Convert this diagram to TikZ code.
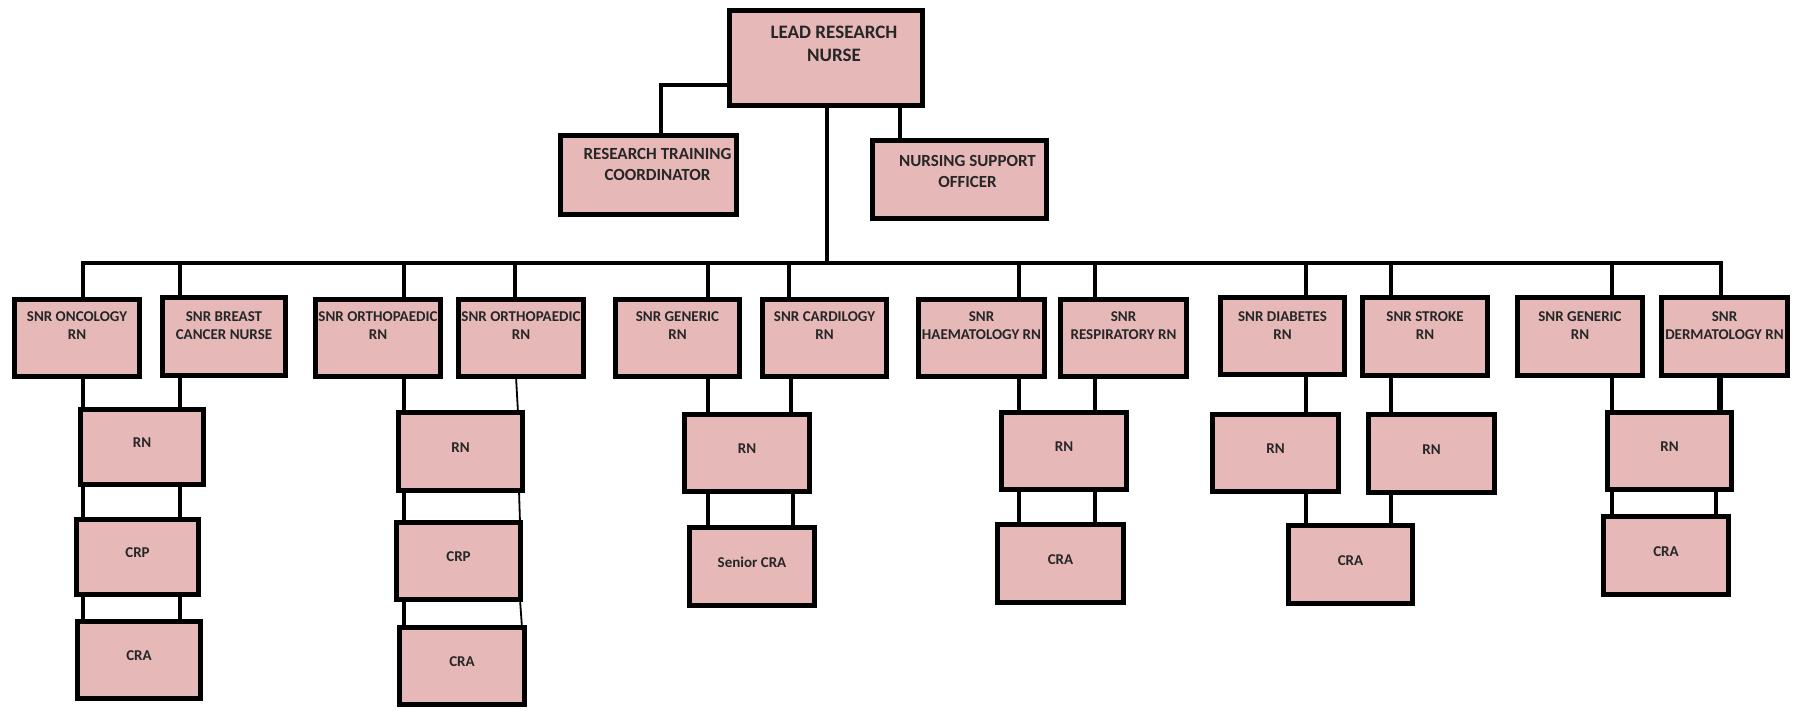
\documentclass[tikz,border=0pt]{standalone}
\usepackage{fontspec}
\setmainfont{Carlito}
\usetikzlibrary{backgrounds,calc}
\definecolor{boxfill}{HTML}{E6B9B8}
\definecolor{txtcol}{HTML}{262626}
\tikzset{
  box/.style={rectangle, draw=black, fill=boxfill, line width=5pt, inner sep=0pt, outer sep=0pt},
  txt/.style={inner sep=0pt, align=center, text=txtcol, font=\bfseries\fontsize{15}{18}\selectfont},
  bigtxt/.style={txt, font=\bfseries\fontsize{17}{21}\selectfont},
  leadtxt/.style={txt, font=\bfseries\fontsize{19}{23}\selectfont},
  conn/.style={draw=black, line width=4pt, line cap=rect},
  thinconn/.style={draw=black, line width=1.8pt},
}
\newcommand\Bx[5]{\node[box, minimum width={#4-#2-5}, minimum height={#5-#3-5}] (#1) at ({(#2+#4)/2},{(#3+#5)/2}) {};}
\newcommand\vc[4][conn]{\draw[#1] let \p1=(#2.south), \p2=(#3.north), \p3=(#4,0) in (\x3,\y1) -- (\x3,\y2);}
\newcommand\vcs[5][thinconn]{\draw[#1] let \p1=(#2.south), \p2=(#3.north), \p3=(#4,0), \p4=(#5,0) in (\x3,\y1) -- (\x4,\y2);}
\newcommand\drop[2]{\draw[conn] let \p1=(busL), \p2=(#1.north), \p3=(#2,0) in (\x3,\y1) -- (\x3,\y2);}
\newcommand\RowT[2]{\node[txt, anchor=north] (#1t) at (#1.center |- rowT) {#2};}
\newcommand\OneT[2]{\node[txt] (#1t) at ([yshift=4pt]#1.center) {#2};}
\begin{document}
\begin{tikzpicture}[x=1pt,y=-1pt]
\useasboundingbox (0,0) rectangle (1793,710);
\coordinate (busL) at (83,263);
\coordinate (busR) at (1721,263);
\coordinate (rowT) at (0,311);
\coordinate (k1) at (661,85);
\coordinate (k2) at (900,0);
\coordinate (k3) at (827,0);

% top
\Bx{lead}{727}{8}{925}{108}
\Bx{rtc}{558}{133}{739}{217}
\Bx{nso}{870}{138}{1049}{221}
\node[leadtxt, anchor=north] (leadt) at ([xshift=8pt,yshift=-15.5pt]lead.north) {LEAD RESEARCH\\NURSE};
\node[bigtxt, anchor=north] (rtct) at ([xshift=9pt,yshift=-13pt]rtc.north) {RESEARCH TRAINING\\COORDINATOR};
\node[bigtxt, anchor=north] (nsot) at ([xshift=8pt,yshift=-15pt]nso.north) {NURSING SUPPORT\\OFFICER};

% row 1
\Bx{onc}{12}{297}{142}{379}
\Bx{brc}{160}{295}{288}{378}
\Bx{orA}{313}{297}{443}{379}
\Bx{orB}{456}{297}{586}{379}
\Bx{gen}{613}{297}{742}{379}
\Bx{car}{760}{297}{889}{379}
\Bx{hae}{916}{297}{1047}{379}
\Bx{res}{1058}{297}{1189}{379}
\Bx{dia}{1218}{295}{1347}{377}
\Bx{str}{1360}{295}{1490}{378}
\Bx{gnb}{1515}{295}{1645}{378}
\Bx{der}{1659}{295}{1790}{378}
\RowT{onc}{SNR ONCOLOGY\\RN}
\RowT{brc}{SNR BREAST\\CANCER NURSE}
\RowT{orA}{SNR ORTHOPAEDIC\\RN}
\RowT{orB}{SNR ORTHOPAEDIC\\RN}
\RowT{gen}{SNR GENERIC\\RN}
\RowT{car}{SNR CARDILOGY\\RN}
\RowT{hae}{SNR\\HAEMATOLOGY RN}
\RowT{res}{SNR\\RESPIRATORY RN}
\RowT{dia}{SNR DIABETES\\RN}
\RowT{str}{SNR STROKE\\RN}
\RowT{gnb}{SNR GENERIC\\RN}
\RowT{der}{SNR\\DERMATOLOGY RN}

% row 2
\Bx{rnA}{78}{407}{206}{487}
\Bx{rnB}{396}{410}{525}{493}
\Bx{rnC}{682}{412}{812}{494}
\Bx{rnD}{999}{410}{1129}{492}
\Bx{rnE}{1210}{412}{1341}{494}
\Bx{rnF}{1366}{412}{1497}{495}
\Bx{rnG}{1605}{410}{1734}{492}
\OneT{rnA}{RN}
\OneT{rnB}{RN}
\OneT{rnC}{RN}
\OneT{rnD}{RN}
\OneT{rnE}{RN}
\OneT{rnF}{RN}
\OneT{rnG}{RN}

% row 3
\Bx{crpA}{74}{517}{201}{597}
\Bx{crpB}{394}{520}{523}{602}
\Bx{scra}{687}{525}{817}{608}
\Bx{craD}{995}{522}{1126}{605}
\Bx{craE}{1286}{523}{1415}{606}
\Bx{craG}{1601}{514}{1731}{597}
\OneT{crpA}{CRP}
\OneT{crpB}{CRP}
\OneT{scra}{Senior CRA}
\OneT{craD}{CRA}
\OneT{craE}{CRA}
\OneT{craG}{CRA}

% row 4
\Bx{craA}{75}{619}{203}{701}
\Bx{craB}{397}{625}{527}{707}
\OneT{craA}{CRA}
\OneT{craB}{CRA}

\begin{pgfonlayer}{background}
  % top connectors
  \draw[conn] (rtc.north -| k1) |- (lead.west |- k1);
  \draw[conn] (lead.south -| k2) -- (nso.north -| k2);
  \draw[conn] (lead.south -| k3) -- (busL -| k3);
  \draw[conn] (busL) -- (busR);
  % drops
  \drop{onc}{83}  \drop{brc}{180}
  \drop{orA}{404} \drop{orB}{515}
  \drop{gen}{708} \drop{car}{789}
  \drop{hae}{1019} \drop{res}{1095}
  \drop{dia}{1306} \drop{str}{1391}
  \drop{gnb}{1612} \drop{der}{1721}
  % oncology / breast
  \vc{onc}{rnA}{83}   \vc{brc}{rnA}{180}
  \vc{rnA}{crpA}{83}  \vc{rnA}{crpA}{180}
  \vc{crpA}{craA}{83} \vc{crpA}{craA}{180}
  % orthopaedic
  \vc{orA}{rnB}{404}
  \vcs{orB}{rnB}{516}{518}
  \vc{rnB}{crpB}{404}
  \vcs{rnB}{crpB}{519}{520}
  \vc{crpB}{craB}{404}
  \vcs{crpB}{craB}{520}{522}
  % generic / cardiology
  \vc{gen}{rnC}{708}  \vc{car}{rnC}{791}
  \vc{rnC}{scra}{708} \vc{rnC}{scra}{793}
  % haematology / respiratory
  \vc{hae}{rnD}{1019}  \vc{res}{rnD}{1095}
  \vc{rnD}{craD}{1019} \vc{rnD}{craD}{1095}
  % diabetes / stroke
  \vc{dia}{rnE}{1306}  \vc{rnE}{craE}{1306}
  \vc{str}{rnF}{1391}  \vc{rnF}{craE}{1391}
  % generic / dermatology
  \vc{gnb}{rnG}{1612}  \vc{der}{rnG}{1719}
  \vc[conn,line width=6pt]{der}{rnG}{1720}
  \vc{rnG}{craG}{1612} \vc{rnG}{craG}{1716}
\end{pgfonlayer}
\end{tikzpicture}
\end{document}
